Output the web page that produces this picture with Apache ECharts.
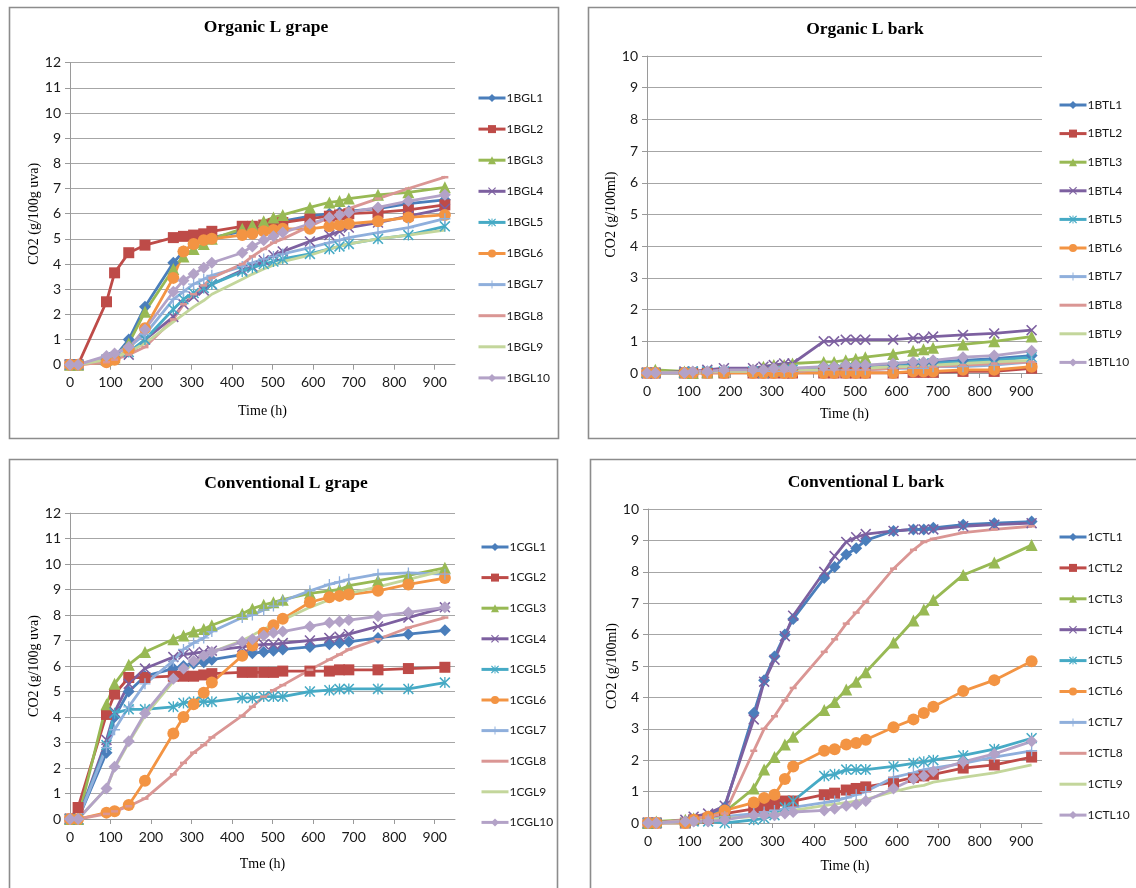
<!DOCTYPE html>
<html>
<head>
<meta charset="utf-8">
<script src="https://cdn.jsdelivr.net/npm/echarts@6/dist/echarts.min.js"></script>
<style>
  html, body { margin: 0; padding: 0; background: #fff; }
  #chart { width: 1136px; height: 888px; }
</style>
</head>
<body>
<div id="chart"></div>
<script>
// Sampling times (h), shared by every trial
const hours = [0, 20, 90, 110, 145, 185, 255, 280, 305, 330, 350, 425, 450, 478, 502, 525, 592, 640, 665, 688, 760, 835, 925];

const xTicks = [0, 100, 200, 300, 400, 500, 600, 700, 800, 900];
const grapeTicks = [0, 1, 2, 3, 4, 5, 6, 7, 8, 9, 10, 11, 12];
const barkTicks = [0, 1, 2, 3, 4, 5, 6, 7, 8, 9, 10];

// Organic L grape, CO2 (g/100g uva)
const organicGrapeNames = ['1BGL1', '1BGL2', '1BGL3', '1BGL4', '1BGL5', '1BGL6', '1BGL7', '1BGL8', '1BGL9', '1BGL10'];
const organicGrape = [
  [0, 0, 0.2, 0.3, 1.0, 2.3, 4.05, 4.5, 4.8, 4.95, 5.05, 5.3, 5.45, 5.55, 5.65, 5.7, 5.9, 6.0, 6.05, 6.1, 6.2, 6.4, 6.55],
  [0, 0, 2.5, 3.65, 4.45, 4.75, 5.05, 5.1, 5.15, 5.2, 5.3, 5.5, 5.5, 5.55, 5.6, 5.65, 5.8, 5.9, 5.95, 6.0, 6.05, 6.15, 6.35],
  [0, 0, 0.2, 0.3, 0.85, 2.1, 3.8, 4.3, 4.6, 4.8, 5.0, 5.4, 5.55, 5.7, 5.85, 5.95, 6.25, 6.45, 6.5, 6.6, 6.75, 6.85, 7.05],
  [0, 0, 0.2, 0.3, 0.4, 1.0, 1.9, 2.4, 2.7, 2.95, 3.2, 3.75, 3.9, 4.15, 4.35, 4.5, 4.9, 5.15, 5.3, 5.45, 5.65, 5.9, 6.2],
  [0, 0, 0.2, 0.3, 0.5, 1.0, 2.2, 2.6, 2.85, 3.05, 3.2, 3.7, 3.85, 4.0, 4.1, 4.2, 4.4, 4.6, 4.7, 4.8, 5.0, 5.15, 5.5],
  [0, 0, 0.1, 0.2, 0.6, 1.45, 3.45, 4.5, 4.8, 4.95, 5.0, 5.15, 5.2, 5.3, 5.35, 5.4, 5.4, 5.5, 5.55, 5.6, 5.7, 5.85, 5.95],
  [0, 0, 0.3, 0.4, 0.7, 1.2, 2.6, 2.9, 3.2, 3.4, 3.55, 3.9, 4.05, 4.2, 4.3, 4.4, 4.65, 4.85, 4.95, 5.05, 5.25, 5.45, 5.8],
  [0, 0, 0.1, 0.2, 0.4, 0.7, 1.8, 2.4, 2.8, 3.15, 3.45, 4.0, 4.3, 4.6, 4.85, 5.0, 5.5, 5.85, 6.05, 6.2, 6.6, 7.0, 7.45],
  [0, 0, 0.2, 0.3, 0.5, 0.85, 1.7, 2.0, 2.3, 2.55, 2.8, 3.4, 3.6, 3.8, 3.95, 4.1, 4.35, 4.6, 4.7, 4.8, 5.0, 5.15, 5.35],
  [0, 0, 0.35, 0.45, 0.7, 1.4, 2.9, 3.35, 3.6, 3.85, 4.05, 4.45, 4.7, 4.95, 5.1, 5.25, 5.6, 5.85, 5.95, 6.05, 6.25, 6.5, 6.75]
];

// Organic L bark, CO2 (g/100ml)
const organicBarkNames = ['1BTL1', '1BTL2', '1BTL3', '1BTL4', '1BTL5', '1BTL6', '1BTL7', '1BTL8', '1BTL9', '1BTL10'];
const organicBark = [
  [0, 0, 0, 0, 0.05, 0.05, 0.05, 0.1, 0.1, 0.1, 0.1, 0.15, 0.15, 0.15, 0.2, 0.2, 0.25, 0.3, 0.3, 0.35, 0.4, 0.45, 0.55],
  [0, 0, 0, 0, 0, 0, 0, 0, 0, 0, 0, 0, 0, 0, 0, 0, 0, 0.02, 0.02, 0.02, 0.05, 0.05, 0.15],
  [0.05, 0.1, 0.05, 0, 0.02, 0.05, 0.1, 0.2, 0.25, 0.25, 0.3, 0.35, 0.35, 0.4, 0.45, 0.5, 0.6, 0.7, 0.75, 0.8, 0.9, 1.0, 1.15],
  [0, 0, 0.05, 0.05, 0.1, 0.15, 0.15, 0.2, 0.25, 0.3, 0.3, 1.0, 1.0, 1.05, 1.05, 1.05, 1.05, 1.1, 1.1, 1.15, 1.2, 1.25, 1.35],
  [0, 0, 0, 0.05, 0.05, 0.05, 0.05, 0, 0.05, 0.05, 0.1, 0.1, 0.1, 0.15, 0.15, 0.15, 0.2, 0.25, 0.3, 0.3, 0.35, 0.4, 0.5],
  [0, 0, 0, 0, 0, 0, 0, 0, 0, 0, 0, 0, 0, 0, 0, 0, 0, 0.05, 0.05, 0.05, 0.1, 0.1, 0.2],
  [0, 0, 0, 0, 0, 0.05, 0.05, 0.05, 0.05, 0.05, 0.05, 0.1, 0.1, 0.1, 0.1, 0.1, 0.15, 0.15, 0.15, 0.2, 0.2, 0.25, 0.35],
  [0, 0, 0, 0, 0, 0.05, 0.05, 0.05, 0.05, 0.05, 0.05, 0.1, 0.1, 0.1, 0.1, 0.1, 0.15, 0.2, 0.2, 0.2, 0.25, 0.3, 0.35],
  [0, 0, 0, 0, 0.05, 0.05, 0.05, 0.1, 0.1, 0.1, 0.1, 0.1, 0.1, 0.15, 0.15, 0.15, 0.2, 0.2, 0.25, 0.25, 0.3, 0.35, 0.4],
  [0, 0, 0, 0.05, 0.05, 0.1, 0.1, 0.1, 0.15, 0.15, 0.15, 0.2, 0.2, 0.25, 0.25, 0.25, 0.3, 0.35, 0.35, 0.4, 0.5, 0.55, 0.7]
];

// Conventional L grape, CO2 (g/100g uva)
const conventionalGrapeNames = ['1CGL1', '1CGL2', '1CGL3', '1CGL4', '1CGL5', '1CGL6', '1CGL7', '1CGL8', '1CGL9', '1CGL10'];
const conventionalGrape = [
  [0, 0, 2.6, 4.0, 5.0, 5.6, 5.9, 6.0, 6.1, 6.15, 6.25, 6.45, 6.5, 6.55, 6.6, 6.65, 6.75, 6.85, 6.9, 6.95, 7.1, 7.25, 7.4],
  [0, 0.45, 4.1, 4.9, 5.55, 5.55, 5.6, 5.6, 5.6, 5.65, 5.7, 5.75, 5.75, 5.75, 5.75, 5.8, 5.8, 5.8, 5.85, 5.85, 5.85, 5.9, 5.95],
  [0, 0, 4.5, 5.3, 6.05, 6.55, 7.05, 7.2, 7.35, 7.45, 7.6, 8.05, 8.25, 8.4, 8.5, 8.6, 8.85, 8.95, 9.0, 9.15, 9.35, 9.55, 9.85],
  [0, 0, 3.1, 4.2, 5.3, 5.9, 6.35, 6.45, 6.5, 6.55, 6.6, 6.75, 6.8, 6.85, 6.85, 6.9, 7.0, 7.1, 7.15, 7.25, 7.55, 7.9, 8.3],
  [0, 0, 2.9, 4.15, 4.3, 4.3, 4.4, 4.55, 4.6, 4.6, 4.6, 4.75, 4.75, 4.8, 4.8, 4.8, 5.0, 5.05, 5.1, 5.1, 5.1, 5.1, 5.35],
  [0, 0, 0.25, 0.3, 0.55, 1.5, 3.35, 4.0, 4.5, 4.95, 5.35, 6.4, 6.8, 7.3, 7.6, 7.85, 8.5, 8.7, 8.75, 8.8, 8.95, 9.2, 9.45],
  [0, 0, 2.8, 3.5, 4.4, 5.3, 6.2, 6.65, 6.9, 7.1, 7.35, 7.9, 8.0, 8.2, 8.35, 8.55, 8.95, 9.2, 9.3, 9.4, 9.6, 9.65, 9.6],
  [0, 0, 0.2, 0.3, 0.5, 0.8, 1.75, 2.2, 2.6, 2.9, 3.2, 4.05, 4.4, 4.8, 5.05, 5.25, 5.85, 6.25, 6.45, 6.65, 7.05, 7.5, 7.9],
  [0, 0, 1.2, 2.0, 3.0, 4.05, 5.4, 5.8, 6.1, 6.35, 6.55, 7.0, 7.2, 7.45, 7.6, 7.8, 8.3, 8.6, 8.75, 8.85, 9.1, 9.4, 9.75],
  [0, 0, 1.2, 2.05, 3.05, 4.15, 5.5, 5.9, 6.2, 6.4, 6.55, 6.95, 7.05, 7.2, 7.3, 7.35, 7.55, 7.7, 7.75, 7.8, 7.95, 8.1, 8.3]
];

// Conventional L bark, CO2 (g/100ml)
const conventionalBarkNames = ['1CTL1', '1CTL2', '1CTL3', '1CTL4', '1CTL5', '1CTL6', '1CTL7', '1CTL8', '1CTL9', '1CTL10'];
const conventionalBark = [
  [0, 0, 0.05, 0.1, 0.2, 0.5, 3.5, 4.55, 5.3, 6.0, 6.5, 7.8, 8.15, 8.55, 8.75, 9.0, 9.3, 9.35, 9.35, 9.4, 9.5, 9.55, 9.6],
  [0, 0, 0, 0.1, 0.15, 0.3, 0.45, 0.55, 0.6, 0.7, 0.7, 0.9, 0.95, 1.05, 1.1, 1.15, 1.3, 1.45, 1.5, 1.55, 1.75, 1.85, 2.1],
  [0, 0.05, 0.1, 0.15, 0.2, 0.35, 1.1, 1.7, 2.1, 2.5, 2.75, 3.6, 3.85, 4.25, 4.5, 4.8, 5.75, 6.45, 6.8, 7.1, 7.9, 8.3, 8.85],
  [0, 0, 0.1, 0.2, 0.3, 0.55, 3.3, 4.5, 5.2, 5.95, 6.6, 8.0, 8.5, 8.95, 9.1, 9.2, 9.3, 9.35, 9.35, 9.35, 9.45, 9.5, 9.55],
  [0, 0, 0, 0.05, 0.05, 0, 0.1, 0.15, 0.25, 0.5, 0.7, 1.5, 1.55, 1.7, 1.7, 1.7, 1.8, 1.9, 1.95, 2.0, 2.15, 2.35, 2.7],
  [0, 0, 0, 0.1, 0.2, 0.4, 0.65, 0.8, 0.9, 1.4, 1.8, 2.3, 2.35, 2.5, 2.55, 2.65, 3.05, 3.3, 3.5, 3.7, 4.2, 4.55, 5.15],
  [0, 0, 0.05, 0.05, 0.1, 0.2, 0.3, 0.35, 0.4, 0.45, 0.5, 0.65, 0.7, 0.8, 0.9, 1.0, 1.45, 1.6, 1.7, 1.75, 1.9, 2.1, 2.3],
  [0, 0, 0.1, 0.15, 0.2, 0.3, 2.3, 3.0, 3.4, 3.9, 4.3, 5.45, 5.85, 6.35, 6.7, 7.05, 8.1, 8.7, 8.95, 9.05, 9.25, 9.35, 9.45],
  [0, 0, 0.05, 0.05, 0.1, 0.15, 0.2, 0.25, 0.3, 0.35, 0.4, 0.55, 0.6, 0.65, 0.7, 0.75, 1.0, 1.15, 1.2, 1.3, 1.45, 1.6, 1.85],
  [0, 0, 0.05, 0.05, 0.05, 0.1, 0.25, 0.25, 0.25, 0.3, 0.35, 0.4, 0.45, 0.55, 0.6, 0.7, 1.1, 1.4, 1.5, 1.65, 1.95, 2.2, 2.6]
];

// Series palette and marker shapes (same order for every panel)
const colors = ['#4A7EBB', '#BE4B48', '#98B954', '#7D60A0', '#46AAC5', '#F39443', '#8FAFDC', '#DA9694', '#C3D69B', '#B3A2C7'];
const X_MARK = 'path://M0,1 L1,0 L5,4 L9,0 L10,1 L6,5 L10,9 L9,10 L5,6 L1,10 L0,9 L4,5 Z';
const STAR_MARK = 'path://M0,1 L1,0 L5,4 L9,0 L10,1 L6,5 L10,9 L9,10 L5,6 L1,10 L0,9 L4,5 Z M4.4,0 L5.6,0 L5.6,4 L5.6,10 L4.4,10 Z';
const PLUS_MARK = 'path://M4.4,0 L5.6,0 L5.6,4.4 L10,4.4 L10,5.6 L5.6,5.6 L5.6,10 L4.4,10 L4.4,5.6 L0,5.6 L0,4.4 L4.4,4.4 Z';
const DASH_MARK = 'path://M0,0 L10,0 L10,3 L0,3 Z';
const PLAIN_LINE_ICON = 'path://M0,0 L27,0 L27,3 L0,3 Z';
const symbols = ['diamond', 'rect', 'triangle', X_MARK, STAR_MARK, 'circle', PLUS_MARK, DASH_MARK, 'none', 'diamond'];
const symbolSizes = [12, 11, 12, 11, 11, 12, 11, [7, 2.5], 0, 12];

const panels = [
  { title: 'Organic L grape', titleX: 266, titleY: 27, names: organicGrapeNames, values: organicGrape,
    grid: { left: 70, top: 62.7, width: 385, height: 302 }, yMax: 12, yName: 'CO2 (g/100g uva)', xName: 'Time (h)',
    xGap: 40, legend: { left: 477, top: 92, gap: 19.1 }, box: [9, 7, 549, 431] },
  { title: 'Organic L bark', titleX: 865, titleY: 29, names: organicBarkNames, values: organicBark,
    grid: { left: 647, top: 56, width: 395, height: 317 }, yMax: 10, yName: 'CO2 (g/100ml)', xName: 'Time (h)',
    xGap: 34, legend: { left: 1058, top: 99, gap: 16.6 }, box: [588, 7, 560, 431] },
  { title: 'Conventional L grape', titleX: 286, titleY: 483, names: conventionalGrapeNames, values: conventionalGrape,
    grid: { left: 70, top: 513, width: 385, height: 306 }, yMax: 12, yName: 'CO2 (g/100g uva)', xName: 'Tme (h)',
    xGap: 38, legend: { left: 480, top: 541, gap: 18.6 }, box: [9, 459, 548, 440] },
  { title: 'Conventional L bark', titleX: 866, titleY: 482, names: conventionalBarkNames, values: conventionalBark,
    grid: { left: 648, top: 509, width: 394, height: 314 }, yMax: 10, yName: 'CO2 (g/100ml)', xName: 'Time (h)',
    xGap: 36, legend: { left: 1058, top: 531, gap: 18.9 }, box: [590, 459, 560, 440] }
];

const tickFont = { fontFamily: 'Lato, "Liberation Sans", sans-serif', fontSize: 14, color: '#1a1a1a' };
const serifFont = 'Liberation Serif, "Times New Roman", serif';

const grids = [], xAxes = [], yAxes = [], legends = [], series = [], graphics = [];

panels.forEach((p, pi) => {
  graphics.push({
    type: 'rect', silent: true, z: -1,
    shape: { x: p.box[0] + 0.5, y: p.box[1] + 0.5, width: p.box[2], height: p.box[3] },
    style: { fill: '#fff', stroke: '#8c8c8c', lineWidth: 1.6 }
  });
  graphics.push({
    type: 'text', silent: true, x: p.titleX, y: p.titleY,
    style: { text: p.title, fontFamily: serifFont, fontWeight: 'bold', fontSize: 17.5, fill: '#000',
             textAlign: 'center', textVerticalAlign: 'middle' }
  });
  grids.push(p.grid);
  xAxes.push({
    type: 'value', gridIndex: pi, min: 0, max: 950, interval: 100,
    name: p.xName, nameLocation: 'middle', nameGap: p.xGap,
    nameTextStyle: { fontFamily: serifFont, fontSize: 14, color: '#000' },
    axisLine: { show: true, lineStyle: { color: '#9a9a9a', width: 1 } },
    axisTick: { show: true, length: 5, lineStyle: { color: '#9a9a9a' } },
    axisLabel: Object.assign({ margin: 11, showMaxLabel: false,
      formatter: v => (xTicks.indexOf(v) >= 0 ? String(v) : '') }, tickFont),
    splitLine: { show: false }
  });
  const yTicks = p.yMax === 12 ? grapeTicks : barkTicks;
  yAxes.push({
    type: 'value', gridIndex: pi, min: 0, max: p.yMax, interval: 1,
    name: p.yName, nameLocation: 'middle', nameGap: 28, nameRotate: 90,
    nameTextStyle: { fontFamily: serifFont, fontSize: 14, color: '#000' },
    axisLine: { show: true, lineStyle: { color: '#9a9a9a', width: 1 } },
    axisTick: { show: true, length: 5, lineStyle: { color: '#9a9a9a' } },
    axisLabel: Object.assign({ margin: 9, formatter: v => (yTicks.indexOf(v) >= 0 ? String(v) : '') }, tickFont),
    splitLine: { show: true, lineStyle: { color: '#a6a6a6', width: 1 } }
  });
  // key entries: trials 8 and 9 show a plain line, the others line plus marker
  const legendData = p.names.map((name, si) =>
    (si === 7 || si === 8) ? { name: name, icon: PLAIN_LINE_ICON, itemStyle: { color: colors[si] } } : name);
  legends.push({
    orient: 'vertical', left: p.legend.left, top: p.legend.top, padding: 0,
    itemWidth: 27, itemHeight: 10, itemGap: p.legend.gap,
    data: legendData, selectedMode: false,
    lineStyle: { width: 3 },
    textStyle: { fontFamily: 'Lato, "Liberation Sans", sans-serif', fontSize: 12, color: '#1a1a1a', padding: [0, 0, 0, -4] }
  });
  p.names.forEach((name, si) => {
    series.push({
      type: 'line', name: name, xAxisIndex: pi, yAxisIndex: pi,
      data: hours.map((h, k) => [h, p.values[si][k]]),
      symbol: symbols[si], symbolSize: symbolSizes[si], showSymbol: symbols[si] !== 'none',
      lineStyle: { color: colors[si], width: 2.8 },
      itemStyle: { color: colors[si] },
      emphasis: { disabled: true },
      animation: false
    });
  });
});

const chart = echarts.init(document.getElementById('chart'), null, { renderer: 'canvas' });
chart.setOption({
  backgroundColor: '#ffffff',
  animation: false,
  graphic: graphics,
  grid: grids,
  xAxis: xAxes,
  yAxis: yAxes,
  legend: legends,
  series: series
});
</script>
</body>
</html>
